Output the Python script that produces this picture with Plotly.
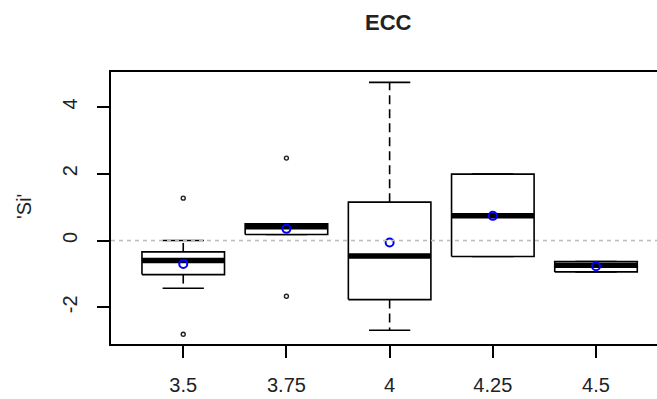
import plotly.graph_objects as go

categories = ["3.5", "3.75", "4", "4.25", "4.5"]
q1 = [-1.02, 0.18, -1.77, -0.48, -0.94]
median = [-0.60, 0.41, -0.46, 0.74, -0.74]
q3 = [-0.34, 0.50, 1.15, 1.99, -0.63]
lower_whisker = [-1.43, 0.18, -2.69, -0.48, -0.94]
upper_whisker = [0.0, 0.50, 4.74, 1.99, -0.63]
means = [-0.70, 0.35, -0.06, 0.74, -0.77]
outlier_cat = ["3.5", "3.5", "3.75", "3.75"]
outlier_val = [1.27, -2.81, 2.47, -1.67]

pos = {c: i + 1 for i, c in enumerate(categories)}
HALF = 0.4
CAP = 0.2

fig = go.Figure()
font = "Liberation Sans, Arial, sans-serif"

for i, c in enumerate(categories):
    p = pos[c]
    # whiskers (dashed)
    fig.add_trace(go.Scatter(x=[p, p], y=[q3[i], upper_whisker[i]], mode="lines",
                             line=dict(color="black", width=1.6, dash="9px,5px"),
                             hoverinfo="skip", showlegend=False))
    fig.add_trace(go.Scatter(x=[p, p], y=[q1[i], lower_whisker[i]], mode="lines",
                             line=dict(color="black", width=1.6, dash="9px,5px"),
                             hoverinfo="skip", showlegend=False))
    # caps
    for w in (upper_whisker[i], lower_whisker[i]):
        fig.add_trace(go.Scatter(x=[p - CAP, p + CAP], y=[w, w], mode="lines",
                                 line=dict(color="black", width=1.6),
                                 hoverinfo="skip", showlegend=False))
    # box
    fig.add_trace(go.Scatter(x=[p - HALF, p + HALF, p + HALF, p - HALF, p - HALF],
                             y=[q1[i], q1[i], q3[i], q3[i], q1[i]], mode="lines",
                             fill="toself", fillcolor="white",
                             line=dict(color="black", width=1.6),
                             hoverinfo="skip", showlegend=False))
    # median
    fig.add_trace(go.Scatter(x=[p - HALF, p + HALF], y=[median[i], median[i]], mode="lines",
                             line=dict(color="black", width=5.5),
                             hoverinfo="skip", showlegend=False))

fig.add_trace(go.Scatter(x=[pos[c] for c in outlier_cat], y=outlier_val, mode="markers",
                         marker=dict(symbol="circle-open", size=4, color="#222222",
                                     line=dict(width=1.4)),
                         hoverinfo="skip", showlegend=False))
fig.add_trace(go.Scatter(x=[pos[c] for c in categories], y=means, mode="markers",
                         marker=dict(symbol="circle-open", size=8, color="blue",
                                     line=dict(width=2, color="blue")),
                         hoverinfo="skip", showlegend=False))

fig.add_hline(y=0, line=dict(color="#BBBBBB", width=1.6, dash="4px,4px"))

fig.update_layout(
    width=657, height=399,
    margin=dict(l=111, r=0, t=72, b=55),
    plot_bgcolor="white", paper_bgcolor="white",
    font=dict(family=font, size=20, color="black"),
    showlegend=False,
    xaxis=dict(range=[0.3, 5.591], tickmode="array",
               tickvals=[pos[c] for c in categories], ticktext=categories,
               showgrid=False, zeroline=False, showline=True, mirror=True,
               linecolor="black", linewidth=1.6, ticks="outside", ticklen=12,
               tickwidth=1.6, tickcolor="black", ticklabelstandoff=10,
               tickfont=dict(size=20, color="#222222")),
    yaxis=dict(range=[-3.10, 5.05], tickmode="array", tickvals=[-2, 0, 2, 4],
               ticktext=["-2", "0", "2", "4"], tickangle=-90,
               showgrid=False, zeroline=False, showline=True, mirror=False,
               linecolor="black", linewidth=1.6, ticks="outside", ticklen=12,
               tickwidth=1.6, tickcolor="black", ticklabelstandoff=12,
               tickfont=dict(size=20, color="#222222")),
    annotations=[
        dict(text="<b>ECC</b>", xref="paper", yref="paper",
             x=(388 - 111) / 546, y=1 + (72 - 22) / 272, xanchor="center", yanchor="middle",
             showarrow=False, font=dict(size=22, color="#222222", family=font)),
        dict(text="'Si'", xref="paper", yref="paper",
             x=(24 - 111) / 546, y=0.5 + (208 - 207) / 272, xanchor="center", yanchor="middle",
             textangle=-90, showarrow=False, font=dict(size=20, color="#222222", family=font)),
    ],
)

fig.write_html("out.html")
